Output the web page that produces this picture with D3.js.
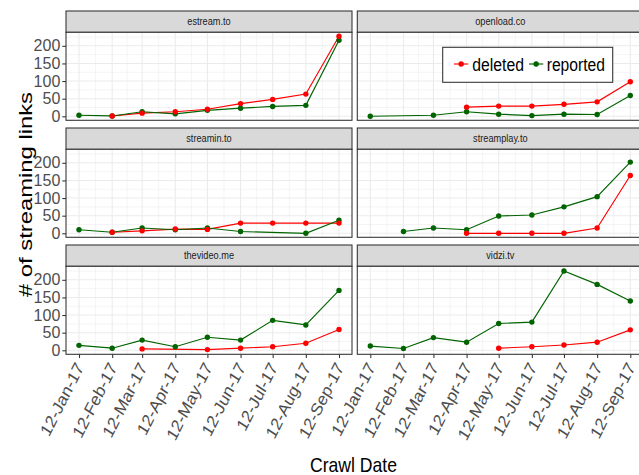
<!DOCTYPE html>
<html>
<head>
<meta charset="utf-8">
<script src="https://cdn.jsdelivr.net/npm/d3@7"></script>
<style>
  body { margin: 0; background: #fff; }
  svg { display: block; }
  text { font-family: "Liberation Sans", Arial, Helvetica, sans-serif; }
</style>
</head>
<body>
<svg id="chart" width="639" height="475"></svg>
<script>
// Crawl dates (one crawl per month) and their axis labels
const crawlDates = ["2017-01-12", "2017-02-12", "2017-03-12", "2017-04-12", "2017-05-12",
                    "2017-06-12", "2017-07-12", "2017-08-12", "2017-09-12"];
const tickLabels = ["12-Jan-17", "12-Feb-17", "12-Mar-17", "12-Apr-17", "12-May-17",
                    "12-Jun-17", "12-Jul-17", "12-Aug-17", "12-Sep-17"];
const sites = ["estream.to", "openload.co", "streamin.to", "streamplay.to", "thevideo.me", "vidzi.tv"];
const seriesNames = ["deleted", "reported"];
const yTicks = [0, 50, 100, 150, 200];

// Number of streaming links per crawl (null = not observed in that crawl)
const estreamDeleted     = [null, 1, 9, 13, 20, 36, 48, 63, 227];
const estreamReported    = [3, 1, 13, 7, 17, 23, 28, 31, 216];
const openloadDeleted    = [null, null, null, 26, 29, 29, 34, 41, 98];
const openloadReported   = [0, null, 3, 13, 6, 2, 6, 5, 59];
const streaminDeleted    = [null, 3, 7, 12, 11, 29, 29, 29, 29];
const streaminReported   = [10, 3, 15, 10, 15, 5, null, 0, 37];
const streamplayDeleted  = [null, null, null, 0, 0, 0, 0, 15, 164];
const streamplayReported = [null, 5, 15, 10, 49, 52, 75, 104, 202];
const thevideoDeleted    = [null, null, 4, null, 2, 6, 10, 20, 59];
const thevideoReported   = [14, 6, 29, 10, 37, 29, 85, 72, 170];
const vidziDeleted       = [null, null, null, null, 6, 10, 15, 23, 58];
const vidziReported      = [12, 5, 36, 23, 76, 80, 225, 187, 140];

const siteSeries = {
  "estream.to":    { deleted: estreamDeleted,    reported: estreamReported },
  "openload.co":   { deleted: openloadDeleted,   reported: openloadReported },
  "streamin.to":   { deleted: streaminDeleted,   reported: streaminReported },
  "streamplay.to": { deleted: streamplayDeleted, reported: streamplayReported },
  "thevideo.me":   { deleted: thevideoDeleted,   reported: thevideoReported },
  "vidzi.tv":      { deleted: vidziDeleted,      reported: vidziReported }
};

const colors = { deleted: "#ff0000", reported: "#006400" };

// Layout
const svg = d3.select("#chart");
const colX = [66, 357.3];
const rowY = [11, 128, 245];
const panelW = 286, stripH = 21.3, plotH = 88;
const squeeze = 0.877;

const dates = crawlDates.map(d3.utcParse("%Y-%m-%d"));
const span = dates[dates.length - 1] - dates[0];
const x = d3.scaleUtc()
  .domain([new Date(+dates[0] - 0.05 * span), new Date(+dates[dates.length - 1] + 0.05 * span)])
  .range([0, panelW]);
const minorX = dates.slice(1).map((d, i) => new Date((+d + +dates[i]) / 2));

const allValues = sites.flatMap(s => seriesNames.flatMap(k => siteSeries[s][k])).filter(v => v != null);
const [vMin, vMax] = d3.extent(allValues);
const pad = 0.05 * (vMax - vMin);
const y = d3.scaleLinear().domain([vMin - pad, vMax + pad]).range([plotH, 0]);
const minorY = d3.range(25, vMax + pad, 50);

const line = d3.line().x(d => x(d.date)).y(d => y(d.value));

sites.forEach((site, i) => {
  const col = i % 2, row = Math.floor(i / 2);
  const g = svg.append("g").attr("transform", `translate(${colX[col]},${rowY[row]})`);

  // strip
  g.append("rect").attr("x", 0).attr("y", 0).attr("width", panelW).attr("height", stripH)
    .attr("fill", "#d9d9d9").attr("stroke", "#333333").attr("stroke-width", 1.07);
  g.append("text")
    .attr("transform", `translate(${panelW / 2},${stripH / 2}) scale(${squeeze},1)`)
    .attr("text-anchor", "middle").attr("dy", "0.35em")
    .attr("font-size", 10.5).attr("fill", "#1a1a1a").text(site);

  const p = g.append("g").attr("transform", `translate(0,${stripH})`);
  p.append("rect").attr("width", panelW).attr("height", plotH).attr("fill", "#fff");

  // grid
  p.selectAll(".gxm").data(minorX).join("line")
    .attr("x1", d => x(d)).attr("x2", d => x(d)).attr("y1", 0).attr("y2", plotH)
    .attr("stroke", "#ebebeb").attr("stroke-width", 0.55);
  p.selectAll(".gym").data(minorY).join("line")
    .attr("x1", 0).attr("x2", panelW).attr("y1", d => y(d)).attr("y2", d => y(d))
    .attr("stroke", "#ebebeb").attr("stroke-width", 0.55);
  p.selectAll(".gx").data(dates).join("line")
    .attr("x1", d => x(d)).attr("x2", d => x(d)).attr("y1", 0).attr("y2", plotH)
    .attr("stroke", "#ebebeb").attr("stroke-width", 1.07);
  p.selectAll(".gy").data(yTicks).join("line")
    .attr("x1", 0).attr("x2", panelW).attr("y1", d => y(d)).attr("y2", d => y(d))
    .attr("stroke", "#ebebeb").attr("stroke-width", 1.07);

  const series = seriesNames.map(k => ({
    key: k,
    pts: siteSeries[site][k].map((v, j) => ({ date: dates[j], value: v })).filter(d => d.value != null)
  }));

  series.forEach(s => {
    p.append("path").datum(s.pts).attr("d", line).attr("fill", "none")
      .attr("stroke", colors[s.key]).attr("stroke-width", 1.15);
  });
  ["reported", "deleted"].forEach(k => {
    const s = series.find(e => e.key === k);
    p.selectAll(null).data(s.pts).join("circle")
      .attr("cx", d => x(d.date)).attr("cy", d => y(d.value)).attr("r", 2.7)
      .attr("fill", colors[k]);
  });

  p.append("rect").attr("width", panelW).attr("height", plotH)
    .attr("fill", "none").attr("stroke", "#333333").attr("stroke-width", 1.07);

  // y axis on the left column
  if (col === 0) {
    const ax = p.append("g").call(d3.axisLeft(y).tickValues(yTicks).tickSize(3.7).tickPadding(2));
    ax.select(".domain").remove();
    ax.selectAll(".tick line").attr("stroke", "#333333").attr("stroke-width", 1.07);
    ax.selectAll(".tick text").attr("fill", "#4d4d4d").attr("font-size", 16)
      .attr("font-family", "Liberation Sans, Arial, sans-serif");
  }
  // x axis on the bottom row
  if (row === 2) {
    const ax = p.append("g").attr("transform", `translate(0,${plotH})`)
      .call(d3.axisBottom(x).tickValues(dates).tickFormat((d, j) => tickLabels[j]).tickSize(3.7));
    ax.select(".domain").remove();
    ax.selectAll(".tick line").attr("stroke", "#333333").attr("stroke-width", 1.07);
    ax.selectAll(".tick text").attr("fill", "#4d4d4d").attr("font-size", 18)
      .attr("font-family", "Liberation Sans, Arial, sans-serif")
      .attr("text-anchor", "end").attr("x", 0).attr("y", 0).attr("dy", 0)
      .attr("transform", `translate(5,13) scale(${squeeze},1) rotate(-60)`);
  }
});

// legend inside the openload.co panel
const lg = svg.append("g");
lg.append("rect").attr("x", 442.7).attr("y", 47.3).attr("width", 170).attr("height", 35)
  .attr("fill", "#fff").attr("stroke", "#333333").attr("stroke-width", 1.07);
const legendItems = [
  { key: "deleted", x0: 454, tx: 472.3, len: 51.7 },
  { key: "reported", x0: 529, tx: 546.7, len: 58.3 }
];
legendItems.forEach(it => {
  lg.append("line").attr("x1", it.x0).attr("x2", it.x0 + 14.3).attr("y1", 64).attr("y2", 64)
    .attr("stroke", colors[it.key]).attr("stroke-width", 1.15);
  lg.append("circle").attr("cx", it.x0 + 7.15).attr("cy", 64).attr("r", 2.7).attr("fill", colors[it.key]);
  lg.append("text").attr("x", it.tx).attr("y", 70.7).attr("font-size", 18).attr("fill", "#000")
    .attr("textLength", it.len).attr("lengthAdjust", "spacingAndGlyphs").text(it.key);
});

// axis titles
svg.append("text").attr("x", 310).attr("y", 472).attr("font-size", 21).attr("fill", "#000")
  .attr("textLength", 87).attr("lengthAdjust", "spacingAndGlyphs").text("Crawl Date");
svg.append("text").attr("transform", `translate(32,194.5) scale(${squeeze},1) rotate(-90)`)
  .attr("text-anchor", "middle").attr("font-size", 21).attr("fill", "#000")
  .attr("textLength", 205).attr("lengthAdjust", "spacingAndGlyphs").text("# of streaming links");
</script>
</body>
</html>
